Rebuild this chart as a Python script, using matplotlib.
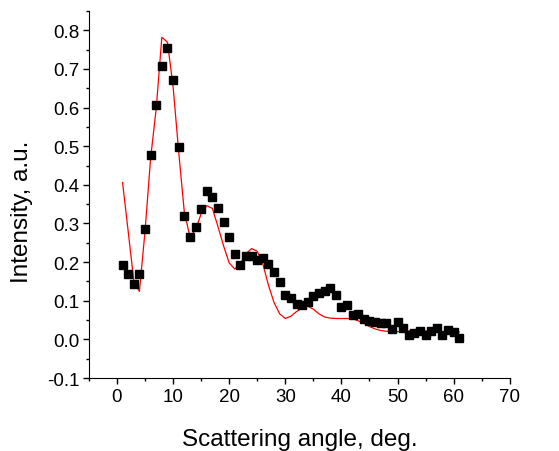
import numpy as np
import matplotlib
matplotlib.use("Agg")
import matplotlib.pyplot as plt
from matplotlib.ticker import MultipleLocator, FormatStrFormatter

plt.rcParams["font.family"] = ["Liberation Sans", "DejaVu Sans"]
plt.rcParams["axes.unicode_minus"] = False

# measured intensity (black squares), one point per degree
angle = np.arange(1, 62)
measured = [
    0.192, 0.168, 0.144, 0.170, 0.285, 0.478, 0.607, 0.707, 0.753, 0.672,
    0.497, 0.320, 0.266, 0.292, 0.337, 0.384, 0.368, 0.339, 0.304, 0.266,
    0.221, 0.192, 0.215, 0.215, 0.205, 0.211, 0.194, 0.174, 0.149, 0.116,
    0.106, 0.091, 0.088, 0.097, 0.113, 0.119, 0.125, 0.133, 0.114, 0.084,
    0.090, 0.062, 0.065, 0.054, 0.047, 0.045, 0.043, 0.043, 0.026, 0.045,
    0.030, 0.012, 0.017, 0.021, 0.012, 0.022, 0.030, 0.012, 0.023, 0.019,
    0.004,
]

# calculated curve (red line)
model = [
    0.406, 0.280, 0.152, 0.124, 0.279, 0.469, 0.598, 0.782, 0.769, 0.655,
    0.486, 0.330, 0.266, 0.283, 0.325, 0.346, 0.339, 0.292, 0.242, 0.198,
    0.182, 0.196, 0.222, 0.235, 0.228, 0.195, 0.140, 0.095, 0.066, 0.054,
    0.060, 0.072, 0.081, 0.086, 0.078, 0.066, 0.058, 0.055, 0.054, 0.054,
    0.054, 0.053, 0.048, 0.042, 0.033, 0.027, 0.023, 0.021, 0.020, 0.020,
    0.021, 0.022, 0.022, 0.023, 0.022, 0.021, 0.021, 0.020, 0.020, 0.019,
    0.019,
]

fig = plt.figure(figsize=(5.59, 4.52), dpi=100)
ax = fig.add_axes([0.159, 0.1615, 0.753, 0.812])

ax.plot(angle, model, color="red", lw=0.9, zorder=2)
ax.plot(angle, measured, "s", color="black", ms=6, zorder=3)

ax.set_xlim(-5, 70)
ax.set_ylim(-0.1, 0.85)
ax.xaxis.set_major_locator(MultipleLocator(10))
ax.xaxis.set_minor_locator(MultipleLocator(5))
ax.yaxis.set_major_locator(MultipleLocator(0.1))
ax.yaxis.set_minor_locator(MultipleLocator(0.05))
ax.yaxis.set_major_formatter(FormatStrFormatter("%.1f"))

ax.spines["top"].set_visible(False)
ax.spines["right"].set_visible(False)
ax.tick_params(which="both", direction="out", width=1, labelsize=13.5)
ax.tick_params(which="major", length=4, pad=3)
ax.tick_params(which="minor", length=2)

ax.set_xlabel("Scattering angle, deg.", fontsize=17.5, va="center")
ax.xaxis.set_label_coords(0.5, -0.166)
ax.set_ylabel("Intensity, a.u.", fontsize=17.5, va="center")
ax.yaxis.set_label_coords(-0.158, 0.455)

fig.savefig("out.png", dpi=100)
